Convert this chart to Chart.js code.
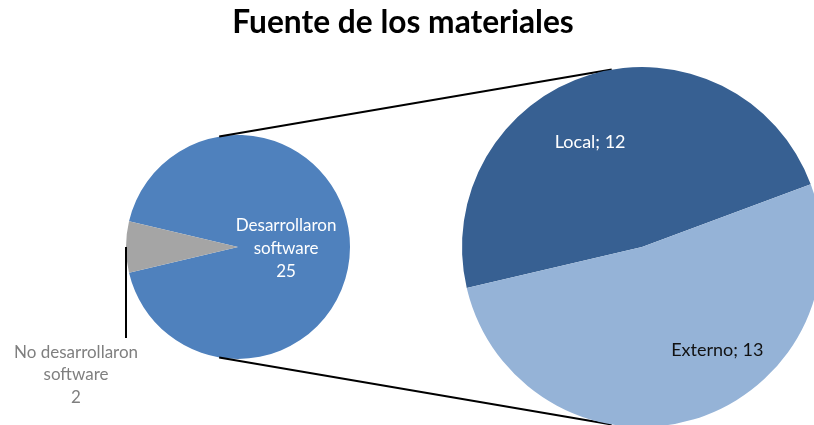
<!DOCTYPE html>
<html>
<head>
<meta charset="utf-8">
<script src="https://cdn.jsdelivr.net/npm/chart.js@4.4.1/dist/chart.umd.min.js"></script>
<style>
    html, body { margin: 0; padding: 0; background: #fff; }
    #wrap { position: relative; width: 814px; height: 425px; overflow: hidden; }
    #title { position: absolute; left: 0; top: 2px; width: 806px; text-align: center;
             font: bold 31.7px Lato, "Open Sans", sans-serif; line-height: 38px; color: #000; }
    canvas { position: absolute; left: 0; top: 0; }
</style>
</head>
<body>
<div id="wrap">
    <canvas id="mainPie" width="814" height="425"></canvas>
    <canvas id="subPie" width="900" height="500"></canvas>
    <div id="title">Fuente de los materiales</div>
</div>
<script>
// main pie: who developed software
var mainLabels = ['Desarrollaron software', 'No desarrollaron software'];
var mainValues = [25, 2];
// secondary pie: split of the 25 that did
var subLabels = ['Local', 'Externo'];
var subValues = [12, 13];

var mainColors = ['#4F81BD', '#A5A5A5'];
var subColors = ['#376092', '#95B3D7'];

var FONT = 'Lato, "Open Sans", sans-serif';

function arcOf(chart) {
    var a = chart.getDatasetMeta(0).data[0];
    return {x: a.x, y: a.y, r: a.outerRadius};
}

function labelPos(arc, frac, angleOffset) {
    var mid = (arc.startAngle + arc.endAngle) / 2 + angleOffset * Math.PI / 180;
    var r = arc.outerRadius * frac;
    return {x: arc.x + Math.cos(mid) * r, y: arc.y + Math.sin(mid) * r};
}

function drawLines(ctx, lines, x, y, lh) {
    var top = y - (lines.length - 1) * lh / 2;
    for (var i = 0; i < lines.length; i++) {
        ctx.fillText(lines[i], x, top + i * lh);
    }
}

var mainLabelPlugin = {
    id: 'mainLabels',
    afterDatasetsDraw: function (chart) {
        var ctx = chart.ctx;
        var arcs = chart.getDatasetMeta(0).data;
        ctx.save();
        ctx.textAlign = 'center';
        ctx.textBaseline = 'middle';
        ctx.font = '17px ' + FONT;

        // big slice, label inside
        var p = labelPos(arcs[0], 0.43, 2.4);
        ctx.fillStyle = '#ffffff';
        drawLines(ctx, ['Desarrollaron', 'software', String(mainValues[0])], p.x, p.y, 23);

        // small slice, leader line down to label below
        var s = arcs[1];
        var mid = (s.startAngle + s.endAngle) / 2;
        var ex = s.x + Math.cos(mid) * s.outerRadius;
        var ey = s.y + Math.sin(mid) * s.outerRadius;
        ctx.strokeStyle = '#000';
        ctx.lineWidth = 2;
        ctx.beginPath();
        ctx.moveTo(ex, ey);
        ctx.lineTo(ex, ey + 91);
        ctx.stroke();
        ctx.fillStyle = '#7f7f7f';
        drawLines(ctx, ['No desarrollaron', 'software', String(mainValues[1])], ex - 50, ey + 128, 22.5);
        ctx.restore();
    }
};

var mainChart = new Chart(document.getElementById('mainPie'), {
    type: 'pie',
    data: {
        labels: mainLabels,
        datasets: [{
            data: mainValues,
            backgroundColor: mainColors,
            borderWidth: 0
        }]
    },
    options: {
        responsive: false,
        animation: false,
        rotation: 283.33,
        layout: {padding: {left: 126, right: 464, top: 135, bottom: 66}},
        plugins: {legend: {display: false}, tooltip: {enabled: false}, title: {display: false}}
    },
    plugins: [mainLabelPlugin]
});

var subLabelPlugin = {
    id: 'subLabels',
    afterDatasetsDraw: function (chart) {
        var ctx = chart.ctx;
        var arcs = chart.getDatasetMeta(0).data;
        ctx.save();
        ctx.textAlign = 'center';
        ctx.textBaseline = 'middle';
        ctx.font = '18px ' + FONT;
        var p = labelPos(arcs[0], 0.65, -9.5);
        ctx.fillStyle = '#ffffff';
        ctx.fillText(subLabels[0] + '; ' + subValues[0], p.x, p.y);
        p = labelPos(arcs[1], 0.71, -19.3);
        ctx.fillStyle = '#111111';
        ctx.fillText(subLabels[1] + '; ' + subValues[1], p.x, p.y);
        ctx.restore();
    },
    // external tangents joining the two pies
    beforeDatasetsDraw: function (chart) {
        var a = arcOf(mainChart);
        var b = arcOf(chart);
        var d = b.x - a.x;
        var phi = Math.asin((b.r - a.r) / d);
        var ctx = chart.ctx;
        ctx.save();
        ctx.strokeStyle = '#000';
        ctx.lineWidth = 2;
        [-1, 1].forEach(function (sgn) {
            var ang = sgn * (Math.PI / 2 + phi);
            ctx.beginPath();
            ctx.moveTo(a.x + Math.cos(ang) * a.r, a.y + Math.sin(ang) * a.r);
            ctx.lineTo(b.x + Math.cos(ang) * b.r, b.y + Math.sin(ang) * b.r);
            ctx.stroke();
        });
        ctx.restore();
    }
};

new Chart(document.getElementById('subPie'), {
    type: 'pie',
    data: {
        labels: subLabels,
        datasets: [{
            data: subValues,
            backgroundColor: subColors,
            borderWidth: 0
        }]
    },
    options: {
        responsive: false,
        animation: false,
        rotation: 256.8,
        layout: {padding: {left: 462, right: 78, top: 67, bottom: 73}},
        plugins: {legend: {display: false}, tooltip: {enabled: false}, title: {display: false}}
    },
    plugins: [subLabelPlugin]
});
</script>
</body>
</html>
